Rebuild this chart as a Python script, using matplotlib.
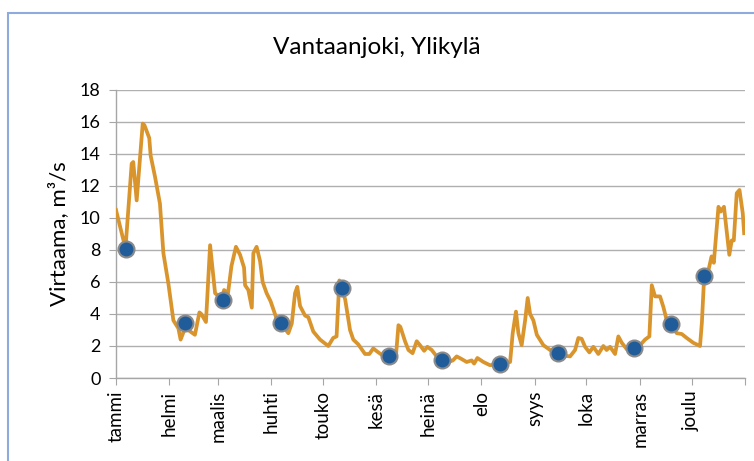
import numpy as np
import matplotlib.pyplot as plt
from matplotlib.patches import Rectangle

plt.rcParams['font.family'] = ['Lato', 'DejaVu Sans']

# months (Finnish) and first day of each month (day of year, 0-based)
months = ['tammi', 'helmi', 'maalis', 'huhti', 'touko', 'kesä',
          'heinä', 'elo', 'syys', 'loka', 'marras', 'joulu']
month_start = [0, 31, 59, 90, 120, 151, 181, 212, 243, 273, 304, 334, 365]

# daily discharge curve (day of year, m3/s)
flow_day = [0, 5.5, 9.1, 10, 12, 15.5, 16.5, 19.3, 20.1, 22.6, 25.5, 27.5, 30.4,
            33.3, 36.2, 37.5, 40, 41.9, 45.8, 48.4, 49.5, 52.2, 54.6, 57.5, 61.9,
            62.7, 65, 67, 69.6, 72, 74.3, 74.9, 76.8, 78.8, 79.7, 81.6, 83.6,
            85.1, 87.4, 89.7, 93.2, 95.8, 100, 102, 103.9, 105.2, 106.8, 109.7,
            111.6, 114.5, 118.4, 123.2, 126, 128, 129.6, 131, 133, 135.8, 137.7,
            140.6, 144.5, 147, 149.3, 151.6, 154.2, 158.6, 162.5, 163.9, 165,
            167.7, 169.7, 172.1, 174.5, 176.4, 178.8, 180.7, 183.2, 186.1, 189.4,
            192.9, 195.5, 197.7, 200.3, 203.5, 206.4, 207.8, 209.7, 213.2, 217,
            222.9, 228.7, 230.2, 232.1, 233.5, 235.4, 237.4, 238.9, 240.3, 242.2,
            244.2, 248, 251.9, 256.7, 259.6, 263.5, 266.4, 268.3, 270.2, 272.2,
            274.7, 277, 279.9, 282.8, 284.7, 286.7, 289.6, 291.5, 293.5, 296.4,
            300.8, 304.1, 307, 309.5, 310.9, 312.8, 315.7, 317.6, 319.6, 321.9,
            325.4, 328.3, 331.2, 335, 338.9, 340, 341.3, 343.5, 345.6, 346.9,
            349.6, 350.9, 352.8, 355.9, 357.3, 358.5, 360.2, 361.8, 363.7, 364.5]
flow_val = [10.5, 8.1, 13.4, 13.5, 11.1, 15.9, 15.8, 15.0, 13.9, 12.6, 10.9, 7.8, 5.9,
            3.6, 3.1, 2.4, 3.1, 3.0, 2.7, 4.1, 4.0, 3.5, 8.3, 5.3, 4.9,
            5.5, 5.3, 7.0, 8.2, 7.7, 6.9, 5.8, 5.5, 4.4, 7.8, 8.2, 7.3,
            6.0, 5.3, 4.8, 3.7, 3.4, 2.8, 3.4, 5.3, 5.7, 4.5, 3.9,
            3.8, 2.9, 2.4, 2.0, 2.5, 2.6, 6.1, 5.6, 4.9, 3.0, 2.4,
            2.1, 1.5, 1.5, 1.85, 1.65, 1.45, 1.35, 1.45, 3.3, 3.2,
            2.3, 1.75, 1.55, 2.3, 2.05, 1.7, 1.95, 1.75, 1.35, 1.2,
            1.0, 1.1, 1.35, 1.2, 1.0, 1.1, 0.9, 1.25, 1.0, 0.8,
            0.9, 1.0, 2.8, 4.15, 2.8, 2.05, 3.6, 5.0, 4.0, 3.6,
            2.7, 2.05, 1.75, 1.55, 1.4, 1.35, 1.75, 2.5, 2.45, 1.95,
            1.6, 1.95, 1.5, 2.0, 1.75, 1.95, 1.5, 2.6, 2.2, 1.8,
            1.85, 2.05, 2.4, 2.6, 5.8, 5.1, 5.1, 4.45, 3.6, 3.3,
            2.8, 2.75, 2.5, 2.2, 2.0, 3.5, 6.35, 6.6, 7.6, 7.2,
            10.7, 10.4, 10.7, 7.7, 8.6, 8.6, 11.55, 11.75, 10.3, 9.05]

# monthly observation points
obs_day = [5.8, 40, 62.3, 95.8, 131, 158.6, 189.4, 222.9, 256.7, 300.8, 321.9, 341.3]
obs_val = [8.05, 3.45, 4.85, 3.45, 5.6, 1.4, 1.15, 0.9, 1.55, 1.9, 3.4, 6.4]

fig = plt.figure(figsize=(7.54, 4.61), dpi=100)
fig.patches.append(Rectangle((8 / 754, -0.1), 1.2, 1.1 - 13 / 461,
                             transform=fig.transFigure, fill=False,
                             edgecolor='#8FAADC', linewidth=1.5))
ax = fig.add_axes([116 / 754, 1 - 378 / 461, (745 - 116) / 754, 288 / 461])

ax.plot(flow_day, flow_val, color='#D9942C', linewidth=2.7, zorder=3,
        solid_joinstyle='round')
ax.plot(obs_day, obs_val, linestyle='none', marker='o', markersize=11.5,
        markerfacecolor='#1F5C99', markeredgecolor='#8A8A8A',
        markeredgewidth=1.5, zorder=4)

ax.set_xlim(0, 365)
ax.set_ylim(0, 18)
ax.set_yticks(np.arange(0, 19, 2))
ax.set_xticks(month_start)
ax.set_xticklabels(months + [''], rotation=90, fontsize=13.5)
ax.tick_params(axis='y', labelsize=13, length=5, color='#A6A6A6', pad=6)
ax.tick_params(axis='x', length=5, color='#A6A6A6', pad=4)
ax.grid(axis='y', color='#B0B0B0', linewidth=1)
ax.set_axisbelow(True)
for s in ['top', 'right']:
    ax.spines[s].set_visible(False)
for s in ['left', 'bottom']:
    ax.spines[s].set_color('#A6A6A6')
    ax.spines[s].set_linewidth(1)

ax.set_ylabel('Virtaama, m³/s', fontsize=16, labelpad=8)
fig.text(377 / 754, 1 - 47 / 461, 'Vantaanjoki, Ylikylä', fontsize=17.5,
         ha='center', va='center')

fig.savefig('out.png', dpi=100)
